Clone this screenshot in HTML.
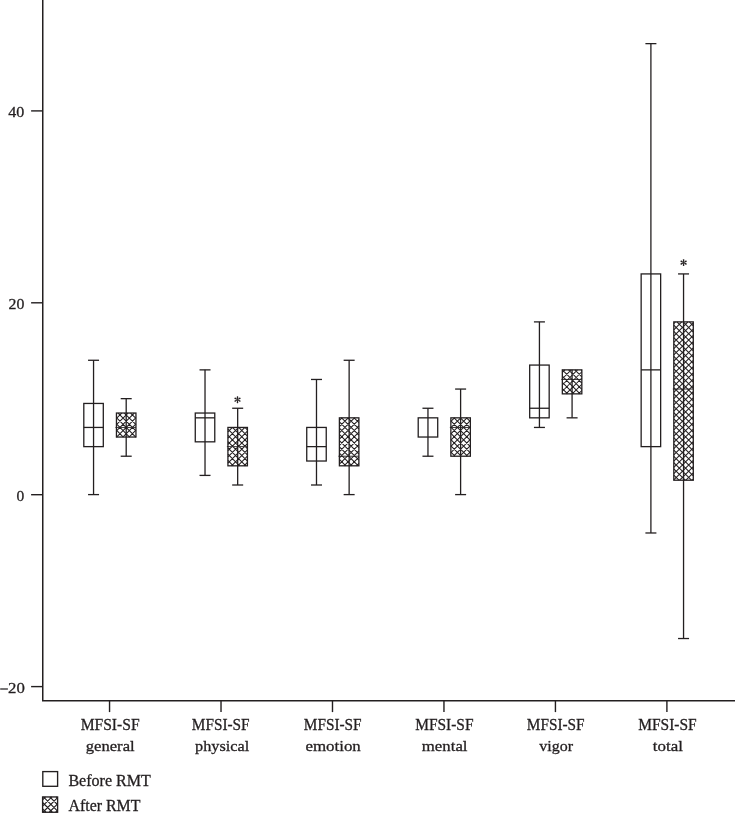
<!DOCTYPE html>
<html><head><meta charset="utf-8"><title>MFSI-SF box plot</title>
<style>
html,body{margin:0;padding:0;background:#fff;}
body{width:735px;height:828px;overflow:hidden;font-family:"Liberation Serif",serif;}
svg{display:block;will-change:transform;transform:translateZ(0);}
text{font-family:"Liberation Serif",serif;fill:#231f20;stroke:#231f20;stroke-width:0.3px;}
</style></head><body>
<svg width="735" height="828" viewBox="0 0 735 828">
<rect width="735" height="828" fill="#fff"/>

<g stroke="#231f20" stroke-width="1.5" fill="none" stroke-linecap="butt">
<path d="M42.75,0 V700.75 H735"/>
<path d="M31.1,110.90 H42.75" stroke-width="1.4"/>
<path d="M31.1,302.80 H42.75" stroke-width="1.4"/>
<path d="M31.1,494.70 H42.75" stroke-width="1.4"/>
<path d="M31.1,686.60 H42.75" stroke-width="1.4"/>
<path d="M109.55,700.75 V712.1" stroke-width="1.4"/>
<path d="M221.02,700.75 V712.1" stroke-width="1.4"/>
<path d="M332.49,700.75 V712.1" stroke-width="1.4"/>
<path d="M443.96,700.75 V712.1" stroke-width="1.4"/>
<path d="M555.43,700.75 V712.1" stroke-width="1.4"/>
<path d="M666.90,700.75 V712.1" stroke-width="1.4"/>
</g>
<g stroke="#231f20" stroke-width="1.3" fill="none">
<rect x="83.80" y="403.45" width="19.5" height="43.18"/>
<path d="M93.55,360.27 V494.60"/>
<path d="M88.05,360.27 H99.05"/>
<path d="M88.05,494.60 H99.05"/>
<path d="M83.80,427.44 H103.30"/>
</g>
<path d="M130.54,413.04L135.95,418.45M124.29,413.04L135.95,424.70M118.04,413.04L135.95,430.95M116.45,417.70L135.78,437.03M116.45,423.95L129.53,437.03M116.45,430.20L123.28,437.03M116.45,436.45L117.03,437.03M116.45,418.38L121.79,413.04M116.45,424.63L128.04,413.04M116.45,430.88L134.29,413.04M116.55,437.03L135.95,417.63M122.80,437.03L135.95,423.88M129.05,437.03L135.95,430.13M135.30,437.03L135.95,436.38" stroke="#231f20" stroke-width="1.05" fill="none"/>
<g stroke="#231f20" stroke-width="1.3" fill="none">
<rect x="116.45" y="413.04" width="19.5" height="23.99"/>
<path d="M126.20,398.65 V456.22"/>
<path d="M120.70,398.65 H131.70"/>
<path d="M120.70,456.22 H131.70"/>
<path d="M115.45,427.44 H135.95" stroke-width="0.9"/>
</g>
<g stroke="#231f20" stroke-width="1.3" fill="none">
<rect x="195.27" y="413.04" width="19.5" height="28.79"/>
<path d="M205.02,369.87 V475.41"/>
<path d="M199.52,369.87 H210.52"/>
<path d="M199.52,475.41 H210.52"/>
<path d="M195.27,417.84 H214.77"/>
</g>
<path d="M244.94,427.44L247.42,429.92M238.69,427.44L247.42,436.17M232.44,427.44L247.42,442.42M227.92,429.17L247.42,448.67M227.92,435.42L247.42,454.92M227.92,441.67L247.42,461.17M227.92,447.92L245.81,465.81M227.92,454.17L239.56,465.81M227.92,460.42L233.31,465.81M227.92,431.91L232.40,427.44M227.92,438.16L238.65,427.44M227.92,444.41L244.90,427.44M227.92,450.66L247.42,431.16M227.92,456.91L247.42,437.41M227.92,463.16L247.42,443.66M231.52,465.81L247.42,449.91M237.77,465.81L247.42,456.16M244.02,465.81L247.42,462.41" stroke="#231f20" stroke-width="1.05" fill="none"/>
<g stroke="#231f20" stroke-width="1.3" fill="none">
<rect x="227.92" y="427.44" width="19.5" height="38.38"/>
<path d="M237.67,408.25 V485.00"/>
<path d="M232.17,408.25 H243.17"/>
<path d="M232.17,485.00 H243.17"/>
<path d="M226.92,446.62 H247.42" stroke-width="0.9"/>
</g>
<g stroke="#231f20" stroke-width="1.3" fill="none">
<rect x="306.74" y="427.44" width="19.5" height="33.58"/>
<path d="M316.49,379.46 V485.00"/>
<path d="M310.99,379.46 H321.99"/>
<path d="M310.99,485.00 H321.99"/>
<path d="M306.74,446.62 H326.24"/>
</g>
<path d="M354.09,417.84L358.89,422.64M347.84,417.84L358.89,428.89M341.59,417.84L358.89,435.14M339.39,421.89L358.89,441.39M339.39,428.14L358.89,447.64M339.39,434.39L358.89,453.89M339.39,440.64L358.89,460.14M339.39,446.89L358.31,465.81M339.39,453.14L352.06,465.81M339.39,459.39L345.81,465.81M339.39,465.64L339.56,465.81M339.39,420.44L341.99,417.84M339.39,426.69L348.24,417.84M339.39,432.94L354.49,417.84M339.39,439.19L358.89,419.69M339.39,445.44L358.89,425.94M339.39,451.69L358.89,432.19M339.39,457.94L358.89,438.44M339.39,464.19L358.89,444.69M344.02,465.81L358.89,450.94M350.27,465.81L358.89,457.19M356.52,465.81L358.89,463.44" stroke="#231f20" stroke-width="1.05" fill="none"/>
<g stroke="#231f20" stroke-width="1.3" fill="none">
<rect x="339.39" y="417.84" width="19.5" height="47.97"/>
<path d="M349.14,360.27 V494.60"/>
<path d="M343.64,360.27 H354.64"/>
<path d="M343.64,494.60 H354.64"/>
<path d="M338.39,456.22 H358.89" stroke-width="0.9"/>
</g>
<g stroke="#231f20" stroke-width="1.3" fill="none">
<rect x="418.21" y="417.84" width="19.5" height="19.19"/>
<path d="M427.96,408.25 V456.22"/>
<path d="M422.46,408.25 H433.46"/>
<path d="M422.46,456.22 H433.46"/>
</g>
<path d="M466.59,417.84L470.36,421.61M460.34,417.84L470.36,427.86M454.09,417.84L470.36,434.11M450.86,420.86L470.36,440.36M450.86,427.11L470.36,446.61M450.86,433.36L470.36,452.86M450.86,439.61L467.47,456.22M450.86,445.86L461.22,456.22M450.86,452.11L454.97,456.22M450.86,421.47L454.49,417.84M450.86,427.72L460.74,417.84M450.86,433.97L466.99,417.84M450.86,440.22L470.36,420.72M450.86,446.47L470.36,426.97M450.86,452.72L470.36,433.22M453.61,456.22L470.36,439.47M459.86,456.22L470.36,445.72M466.11,456.22L470.36,451.97" stroke="#231f20" stroke-width="1.05" fill="none"/>
<g stroke="#231f20" stroke-width="1.3" fill="none">
<rect x="450.86" y="417.84" width="19.5" height="38.38"/>
<path d="M460.61,389.06 V494.60"/>
<path d="M455.11,389.06 H466.11"/>
<path d="M455.11,494.60 H466.11"/>
<path d="M449.86,427.44 H470.36" stroke-width="0.9"/>
</g>
<g stroke="#231f20" stroke-width="1.3" fill="none">
<rect x="529.68" y="365.07" width="19.5" height="52.77"/>
<path d="M539.43,321.89 V427.44"/>
<path d="M533.93,321.89 H544.93"/>
<path d="M533.93,427.44 H544.93"/>
<path d="M529.68,408.25 H549.18"/>
</g>
<path d="M581.12,369.87L581.83,370.58M574.87,369.87L581.83,376.83M568.62,369.87L581.83,383.08M562.37,369.87L581.83,389.33M562.33,376.08L580.10,393.85M562.33,382.33L573.85,393.85M562.33,388.58L567.60,393.85M562.33,372.50L564.97,369.87M562.33,378.75L571.22,369.87M562.33,385.00L577.47,369.87M562.33,391.25L581.83,371.75M565.98,393.85L581.83,378.00M572.23,393.85L581.83,384.25M578.48,393.85L581.83,390.50" stroke="#231f20" stroke-width="1.05" fill="none"/>
<g stroke="#231f20" stroke-width="1.3" fill="none">
<rect x="562.33" y="369.87" width="19.5" height="23.99"/>
<path d="M572.08,369.87 V417.84"/>
<path d="M566.58,417.84 H577.58"/>
<path d="M561.33,379.46 H581.83" stroke-width="0.9"/>
</g>
<g stroke="#231f20" stroke-width="1.3" fill="none">
<rect x="641.15" y="273.92" width="19.5" height="172.71"/>
<path d="M650.90,43.63 V532.98"/>
<path d="M645.40,43.63 H656.40"/>
<path d="M645.40,532.98 H656.40"/>
<path d="M641.15,369.87 H660.65"/>
</g>
<path d="M689.39,321.89L693.30,325.80M683.14,321.89L693.30,332.05M676.89,321.89L693.30,338.30M673.80,325.05L693.30,344.55M673.80,331.30L693.30,350.80M673.80,337.55L693.30,357.05M673.80,343.80L693.30,363.30M673.80,350.05L693.30,369.55M673.80,356.30L693.30,375.80M673.80,362.55L693.30,382.05M673.80,368.80L693.30,388.30M673.80,375.05L693.30,394.55M673.80,381.30L693.30,400.80M673.80,387.55L693.30,407.05M673.80,393.80L693.30,413.30M673.80,400.05L693.30,419.55M673.80,406.30L693.30,425.80M673.80,412.55L693.30,432.05M673.80,418.80L693.30,438.30M673.80,425.05L693.30,444.55M673.80,431.30L693.30,450.80M673.80,437.55L693.30,457.05M673.80,443.80L693.30,463.30M673.80,450.05L693.30,469.55M673.80,456.30L693.30,475.80M673.80,462.55L691.46,480.21M673.80,468.80L685.21,480.21M673.80,475.05L678.96,480.21M673.80,323.53L675.44,321.89M673.80,329.78L681.69,321.89M673.80,336.03L687.94,321.89M673.80,342.28L693.30,322.78M673.80,348.53L693.30,329.03M673.80,354.78L693.30,335.28M673.80,361.03L693.30,341.53M673.80,367.28L693.30,347.78M673.80,373.53L693.30,354.03M673.80,379.78L693.30,360.28M673.80,386.03L693.30,366.53M673.80,392.28L693.30,372.78M673.80,398.53L693.30,379.03M673.80,404.78L693.30,385.28M673.80,411.03L693.30,391.53M673.80,417.28L693.30,397.78M673.80,423.53L693.30,404.03M673.80,429.78L693.30,410.28M673.80,436.03L693.30,416.53M673.80,442.28L693.30,422.78M673.80,448.53L693.30,429.03M673.80,454.78L693.30,435.28M673.80,461.03L693.30,441.53M673.80,467.28L693.30,447.78M673.80,473.53L693.30,454.03M673.80,479.78L693.30,460.28M679.62,480.21L693.30,466.53M685.87,480.21L693.30,472.78M692.12,480.21L693.30,479.03" stroke="#231f20" stroke-width="1.05" fill="none"/>
<g stroke="#231f20" stroke-width="1.3" fill="none">
<rect x="673.80" y="321.89" width="19.5" height="158.32"/>
<path d="M683.55,273.92 V638.53"/>
<path d="M678.05,273.92 H689.05"/>
<path d="M678.05,638.53 H689.05"/>
<path d="M672.80,389.06 H693.30" stroke-width="0.9"/>
</g>
<text id="y40" x="8.32" y="117.20" font-size="15.3" textLength="16.06" lengthAdjust="spacingAndGlyphs">40</text>
<text id="y20" x="8.55" y="309.10" font-size="15.3" textLength="15.80" lengthAdjust="spacingAndGlyphs">20</text>
<text id="y0" x="16.60" y="501.00" font-size="15.3" textLength="7.76" lengthAdjust="spacingAndGlyphs">0</text>
<text id="y-20" x="8.08" y="692.90" font-size="15.3" textLength="16.78" lengthAdjust="spacingAndGlyphs">20</text>
<path d="M0.2,689.0 H7.9" stroke="#231f20" stroke-width="1.25"/>
<text id="m0" x="80.63" y="729.90" font-size="16.7" textLength="58.97" lengthAdjust="spacingAndGlyphs">MFSI-SF</text>
<text id="w0" x="85.77" y="750.80" font-size="15.6" textLength="48.85" lengthAdjust="spacingAndGlyphs">general</text>
<text id="m1" x="191.87" y="729.90" font-size="16.7" textLength="57.75" lengthAdjust="spacingAndGlyphs">MFSI-SF</text>
<text id="w1" x="195.05" y="750.80" font-size="15.6" textLength="54.17" lengthAdjust="spacingAndGlyphs">physical</text>
<text id="m2" x="303.81" y="729.90" font-size="16.7" textLength="57.83" lengthAdjust="spacingAndGlyphs">MFSI-SF</text>
<text id="w2" x="305.43" y="750.80" font-size="15.6" textLength="55.41" lengthAdjust="spacingAndGlyphs">emotion</text>
<text id="m3" x="415.19" y="729.90" font-size="16.7" textLength="58.31" lengthAdjust="spacingAndGlyphs">MFSI-SF</text>
<text id="w3" x="421.80" y="750.80" font-size="15.6" textLength="45.73" lengthAdjust="spacingAndGlyphs">mental</text>
<text id="m4" x="526.86" y="729.90" font-size="16.7" textLength="57.76" lengthAdjust="spacingAndGlyphs">MFSI-SF</text>
<text id="w4" x="539.29" y="750.80" font-size="15.6" textLength="33.70" lengthAdjust="spacingAndGlyphs">vigor</text>
<text id="m5" x="638.27" y="729.90" font-size="16.7" textLength="58.45" lengthAdjust="spacingAndGlyphs">MFSI-SF</text>
<text id="w5" x="652.80" y="750.80" font-size="15.6" textLength="30.07" lengthAdjust="spacingAndGlyphs">total</text>
<g fill="#231f20" stroke="none"><polygon points="237.20,399.50 236.70,396.90 237.10,396.25 237.90,396.25 238.30,396.90 237.80,399.50"/><polygon points="237.52,399.34 239.52,397.61 240.29,397.63 240.69,398.32 240.32,398.99 237.82,399.86"/><polygon points="237.82,399.54 240.32,400.41 240.69,401.08 240.29,401.77 239.52,401.79 237.52,400.06"/><polygon points="237.80,399.90 238.30,402.50 237.90,403.15 237.10,403.15 236.70,402.50 237.20,399.90"/><polygon points="237.48,400.06 235.48,401.79 234.71,401.77 234.31,401.08 234.68,400.41 237.18,399.54"/><polygon points="237.18,399.86 234.68,398.99 234.31,398.32 234.71,397.63 235.48,397.61 237.48,399.34"/><circle cx="237.5" cy="399.7" r="0.55"/></g>
<g fill="#231f20" stroke="none"><polygon points="683.30,262.40 682.80,259.80 683.20,259.15 684.00,259.15 684.40,259.80 683.90,262.40"/><polygon points="683.62,262.24 685.62,260.51 686.39,260.53 686.79,261.22 686.42,261.89 683.92,262.76"/><polygon points="683.92,262.44 686.42,263.31 686.79,263.98 686.39,264.67 685.62,264.69 683.62,262.96"/><polygon points="683.90,262.80 684.40,265.40 684.00,266.05 683.20,266.05 682.80,265.40 683.30,262.80"/><polygon points="683.58,262.96 681.58,264.69 680.81,264.67 680.41,263.98 680.78,263.31 683.28,262.44"/><polygon points="683.28,262.76 680.78,261.89 680.41,261.22 680.81,260.53 681.58,260.51 683.58,262.24"/><circle cx="683.6" cy="262.6" r="0.55"/></g>
<rect x="42.8" y="771.6" width="14.8" height="14.7" fill="none" stroke="#231f20" stroke-width="1.35"/>
<path d="M56.16,796.95L57.60,798.39M49.79,796.95L57.60,804.76M43.42,796.95L57.60,811.13M42.60,802.50L52.35,812.25M42.60,808.87L45.98,812.25M42.60,799.82L45.47,796.95M42.60,806.19L51.84,796.95M42.91,812.25L57.60,797.56M49.28,812.25L57.60,803.93M55.65,812.25L57.60,810.30" stroke="#231f20" stroke-width="1.1" fill="none"/>
<rect x="42.6" y="796.95" width="15.0" height="15.3" fill="none" stroke="#231f20" stroke-width="1.35"/>
<text id="lg0" x="68.44" y="785.80" font-size="16" textLength="82.30" lengthAdjust="spacingAndGlyphs">Before RMT</text>
<text id="lg1" x="68.61" y="811.00" font-size="16" textLength="71.80" lengthAdjust="spacingAndGlyphs">After RMT</text>
</svg></body></html>
